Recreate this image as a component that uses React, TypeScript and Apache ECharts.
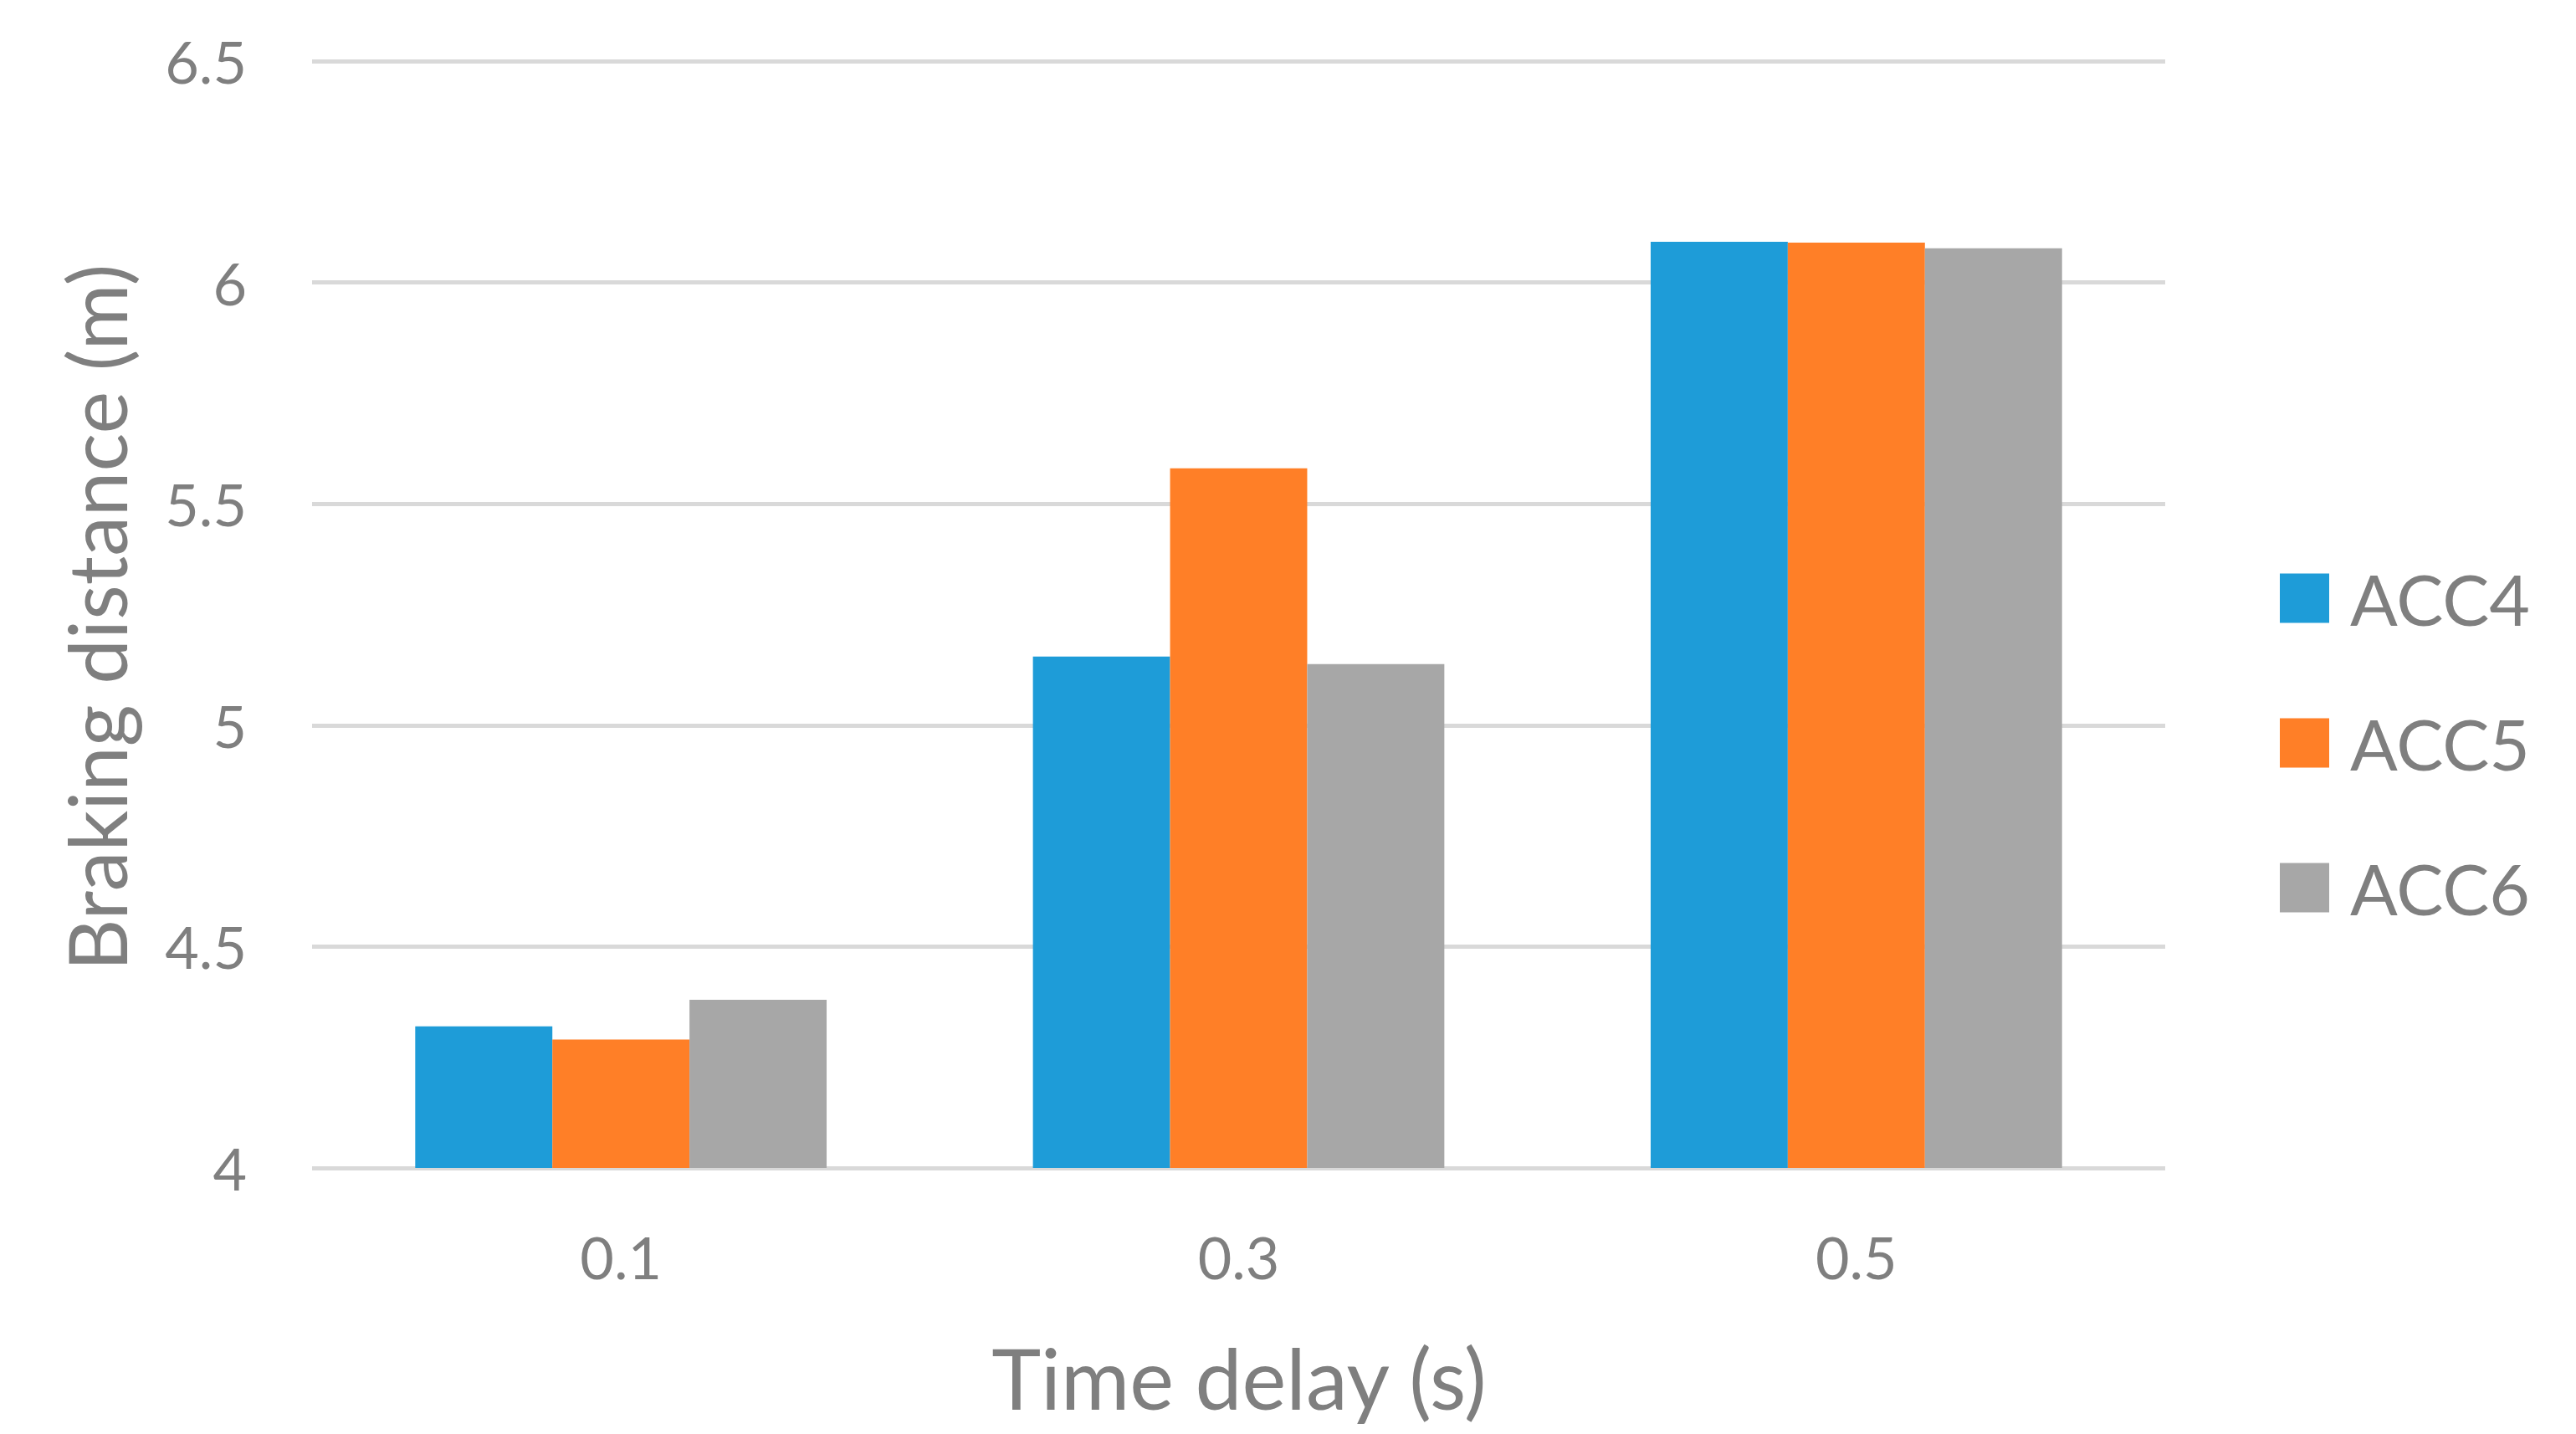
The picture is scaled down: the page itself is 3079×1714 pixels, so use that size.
import React, { useEffect, useRef } from "react";
import * as echarts from "echarts";

const categories = ["0.1", "0.3", "0.5"];
const seriesNames = ["ACC4", "ACC5", "ACC6"];
const acc4 = [4.32, 5.155, 6.092];
const acc5 = [4.29, 5.58, 6.09];
const acc6 = [4.38, 5.138, 6.077];
const colors = ["#1E9CD8", "#FF7F27", "#A7A7A7"];
const yTicks = { min: 4, max: 6.5, interval: 0.5 };

const FONT = "Lato";
const TEXT = "#7F7F7F";

export default function App() {
  const ref = useRef<HTMLDivElement>(null);
  useEffect(() => {
    if (!ref.current) return;
    const chart = echarts.init(ref.current, null, { renderer: "svg" });
    const data = [acc4, acc5, acc6];
    chart.setOption({
      animation: false,
      backgroundColor: "#FFFFFF",
      grid: { left: 373, top: 73, width: 2215, height: 1323 },
      xAxis: {
        type: "category",
        data: categories,
        axisLine: { show: false },
        axisTick: { show: false },
        axisLabel: { color: TEXT, fontFamily: FONT, fontSize: 70, margin: 71 },
      },
      yAxis: {
        type: "value",
        min: yTicks.min,
        max: yTicks.max,
        interval: yTicks.interval,
        axisLine: { show: false },
        axisTick: { show: false },
        axisLabel: { color: TEXT, fontFamily: FONT, fontSize: 70, margin: 78 },
        splitLine: { lineStyle: { color: "#D9D9D9", width: 5 } },
      },
      legend: {
        orient: "vertical",
        left: 2720,
        top: 668,
        itemWidth: 59,
        itemHeight: 59,
        itemGap: 89,
        icon: "rect",
        data: seriesNames,
        textStyle: { color: TEXT, fontFamily: FONT, fontSize: 84, padding: [0, 0, 0, 20] },
      },
      graphic: [
        {
          type: "text",
          x: 1481,
          y: 1646,
          style: { text: "Time delay (s)", fill: TEXT, font: `100px ${FONT}`, align: "center", verticalAlign: "middle" },
        },
        {
          type: "text",
          x: 114,
          y: 738,
          rotation: Math.PI / 2,
          style: { text: "Braking distance (m)", fill: TEXT, font: `96px ${FONT}`, align: "center", verticalAlign: "middle" },
        },
      ],
      series: seriesNames.map((name, i) => ({
        name,
        type: "bar",
        data: data[i],
        barWidth: "22.2%",
        barGap: "0%",
        itemStyle: { color: colors[i] },
      })),
    });
    return () => chart.dispose();
  }, []);
  return (
    <div
      ref={ref}
      style={{ position: "fixed", left: 0, top: 0, width: 3079, height: 1714, background: "#fff" }}
    />
  );
}
